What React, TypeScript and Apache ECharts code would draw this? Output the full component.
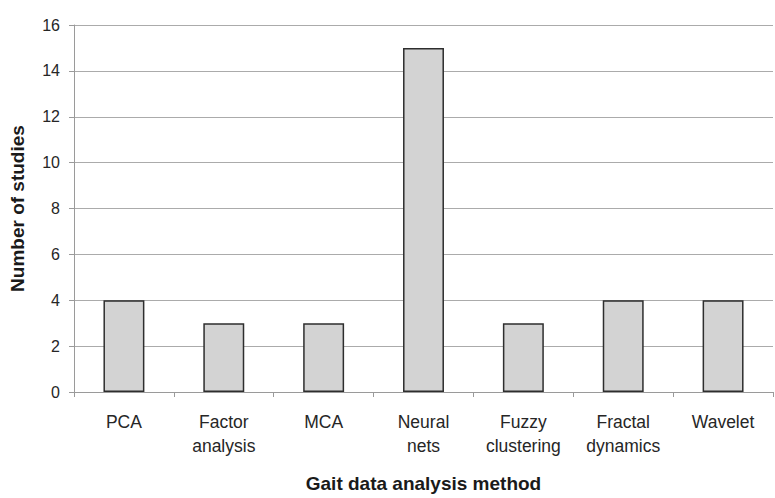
import React, { useEffect, useRef } from "react";
import * as echarts from "echarts";

const categories = ["PCA", "Factor\nanalysis", "MCA", "Neural\nnets", "Fuzzy\nclustering", "Fractal\ndynamics", "Wavelet"];
const studies = [4, 3, 3, 15, 3, 4, 4];
const yTicks = { min: 0, max: 16, interval: 2 };

const FONT = "Liberation Sans, Arial, Helvetica, sans-serif";

export default function App() {
  const ref = useRef<HTMLDivElement>(null);
  useEffect(() => {
    if (!ref.current) return;
    const chart = echarts.init(ref.current, undefined, { renderer: "svg" });
    chart.setOption({
      animation: false,
      backgroundColor: "#ffffff",
      grid: { left: 72, right: 2, top: 25, bottom: 101, containLabel: false },
      xAxis: {
        type: "category",
        data: categories,
        name: "Gait data analysis method",
        nameLocation: "middle",
        nameGap: 82,
        nameTextStyle: { fontFamily: FONT, fontSize: 19, fontWeight: "bold", color: "#1a1a1a" },
        axisLine: { lineStyle: { color: "#9a9a9a", width: 1 } },
        axisTick: { show: true, alignWithLabel: false, length: 5, lineStyle: { color: "#9a9a9a" } },
        axisLabel: {
          interval: 0,
          margin: 18,
          fontFamily: FONT,
          fontSize: 17.5,
          color: "#262626",
          lineHeight: 24,
        },
      },
      yAxis: {
        type: "value",
        min: yTicks.min,
        max: yTicks.max,
        interval: yTicks.interval,
        name: "Number of studies",
        nameLocation: "middle",
        nameGap: 47,
        nameTextStyle: { fontFamily: FONT, fontSize: 19, fontWeight: "bold", color: "#1a1a1a" },
        axisLine: { show: true, lineStyle: { color: "#9a9a9a", width: 1 } },
        axisTick: { show: true, length: 5, lineStyle: { color: "#9a9a9a" } },
        axisLabel: { margin: 14, fontFamily: FONT, fontSize: 16, color: "#262626" },
        splitLine: { show: true, lineStyle: { color: "#ababab", width: 1 } },
      },
      series: [
        {
          type: "bar",
          data: studies,
          barWidth: "41%",
          itemStyle: { color: "#d3d3d3", borderColor: "#2e2e2e", borderWidth: 1.5 },
        },
      ],
    });
    return () => chart.dispose();
  }, []);
  return <div ref={ref} style={{ width: 775, height: 498, position: "absolute", left: 0, top: 0 }} />;
}
